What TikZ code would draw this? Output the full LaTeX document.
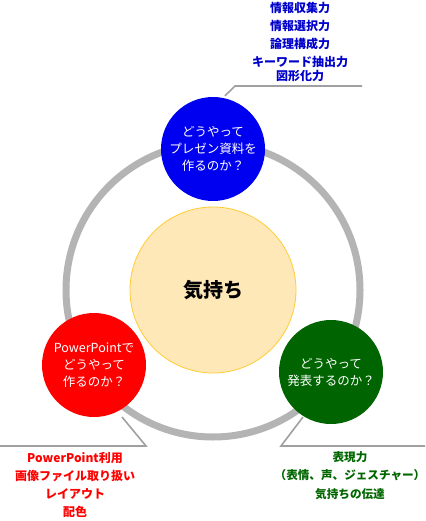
\documentclass[tikz,border=0pt]{standalone}
\usepackage{fontspec}
\setmainfont{Noto Sans CJK JP}
\definecolor{ringgray}{HTML}{B4B4B4}
\definecolor{linegray}{HTML}{A0A0A0}
\definecolor{cblue}{HTML}{0000F0}
\definecolor{tblue}{HTML}{0000CC}
\definecolor{cred}{HTML}{FF0000}
\definecolor{cgreen}{HTML}{006400}
\definecolor{tgreen}{HTML}{006600}
\definecolor{yfill}{HTML}{FFE8B8}
\definecolor{yline}{HTML}{FFCC33}
\begin{document}
\begin{tikzpicture}[x=1pt,y=-1pt,
  bubble/.style={circle,minimum size=104pt,inner sep=0pt,text=white,align=center,
    font=\fontsize{12.5}{17}\selectfont},
  callout/.style={draw=linegray,line width=1.6pt},
  note/.style={align=center,font=\fontsize{12}{18}\selectfont\bfseries}]
\useasboundingbox (0,0) rectangle (425,521);
\fill[white] (0,0) rectangle (425,521);
\node[circle,draw=ringgray,line width=7pt,minimum size=294pt,inner sep=0pt] (ring) at (213,290) {};
\node[circle,fill=yfill,draw=yline,line width=0.8pt,minimum size=166pt,inner sep=0pt,
  font=\fontsize{20}{24}\selectfont\bfseries] (center) at (213,290) {気持ち};
\node[bubble,fill=cblue] (blue) at (213,149) {どうやって\\プレゼン資料を\\作るのか？};
\node[bubble,fill=cred] (red) at (94,365) {PowerPointで\\どうやって\\作るのか？};
\node[bubble,fill=cgreen] (green) at (331,372) {どうやって\\発表するのか？};
\coordinate (b1) at (235,86);
\coordinate (b2) at (362,86);
\coordinate (r1) at (146,446);
\coordinate (r2) at (0,446);
\coordinate (g1) at (281,446);
\coordinate (g2) at (425,446);
\draw[callout] (blue.north) ++(12,-1) coordinate (bs) -- (b1) -- (b2);
\draw[callout] (122,417) coordinate (rs) -- (r1) -- (r2);
\draw[callout] (303,417) coordinate (gs) -- (g1) -- (g2);
\node[note,text=tblue,anchor=north] (bnote) at (300,-1) {情報収集力\\情報選択力\\論理構成力\\キーワード抽出力\\[-4.5pt]図形化力};
\node[note,text=cred,anchor=north] (rnote) at (75,449) {PowerPoint利用\\画像ファイル取り扱い\\レイアウト\\配色};
\node[note,text=tgreen,anchor=north,font=\fontsize{11.6}{18.5}\selectfont\bfseries] (gnote) at (350,448) {表現力\\（表情、声、ジェスチャー）\\気持ちの伝達};
\end{tikzpicture}
\end{document}
